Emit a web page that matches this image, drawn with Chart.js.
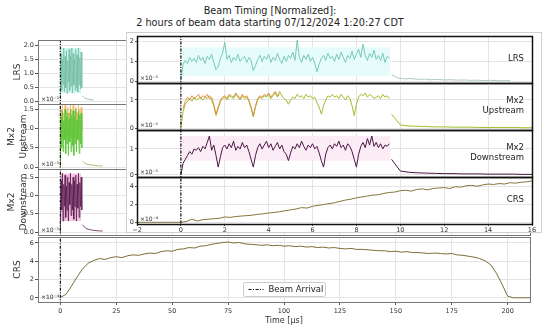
<!DOCTYPE html>
<html>
<head>
<meta charset="utf-8">
<script src="https://cdn.jsdelivr.net/npm/chart.js@4.4.1/dist/chart.umd.min.js"></script>
<style>
  body { margin: 0; width: 550px; height: 327px; background: #fff; position: relative; overflow: hidden; font-family: "DejaVu Sans", sans-serif; }
  canvas { position: absolute; }
  #title { position: absolute; left: 70px; width: 400px; top: 5px; text-align: center; font-size: 9.7px; line-height: 12px; color: #222; }
  #inset { position: absolute; left: 126px; top: 32px; width: 416px; height: 201px; box-sizing: border-box; background: #fff; border: 1px solid #cfcfcf; }
</style>
</head>
<body>
<div id="title">Beam Timing [Normalized]:<br>2 hours of beam data starting 07/12/2024 1:20:27 CDT</div>
<canvas id="left-lrs"></canvas>
<canvas id="left-up"></canvas>
<canvas id="left-down"></canvas>
<canvas id="full-crs"></canvas>
<div id="inset"></div>
<canvas id="in-lrs"></canvas>
<canvas id="in-up"></canvas>
<canvas id="in-down"></canvas>
<canvas id="in-crs"></canvas>
<script>
// ── Data ───────────────────────────────────────────────────
const beamArrival = 0;

// full range x ticks (µs) and zoomed x ticks
const fullTimeTicks = [0, 25, 50, 75, 100, 125, 150, 175, 200];
const zoomTimeTicks = [-2, 0, 2, 4, 6, 8, 10, 12, 14, 16];

// CRS over full window, sampled every 2.5 µs from 0 (×1e-4)
const crsFullStep = 2.5;
const crsFull = [
  0.05, 0.4, 1.3, 2.3, 3.2, 3.8, 4.1, 4.3, 4.2, 4.4,
  4.5, 4.4, 4.6, 4.7, 4.65, 4.8, 4.9, 4.85, 5.05, 5.15,
  5.1, 5.3, 5.35, 5.5, 5.45, 5.65, 5.7, 5.85, 5.95, 6.05,
  6.1, 6.0, 6.05, 5.9, 5.85, 5.8, 5.75, 5.8, 5.7, 5.75,
  5.65, 5.7, 5.6, 5.65, 5.55, 5.6, 5.5, 5.55, 5.45, 5.5,
  5.4, 5.35, 5.4, 5.3, 5.3, 5.25, 5.2, 5.15, 5.15, 5.05,
  5.1, 5.0, 5.05, 4.95, 4.95, 4.9, 4.85, 4.9, 4.85, 4.8,
  4.85, 4.7, 4.65, 4.55, 4.45, 4.3, 4.05, 3.6, 2.7, 1.5,
  0.2, 0.02, 0.02, 0.02, 0.02
];

// small overview panels: spill seen on the full time axis, every 0.3 µs from 0 (×1e-1)
const overviewStep = 0.3;
const lrsOverview = [
  0.1, 1.7, 0.4, 1.5, 0.6, 1.9, 0.35, 1.6, 0.5, 1.8,
  0.3, 1.45, 0.7, 1.85, 0.4, 1.6, 0.55, 1.9, 0.3, 1.7,
  0.6, 1.5, 0.4, 1.85, 0.5, 1.65, 0.35, 1.9, 0.6, 1.55,
  0.45, 1.75, 0.5
];
const upOverviewGreen = [
  0.0, 1.3, 0.5, 1.45, 0.4, 1.2, 0.7, 1.5, 0.35, 1.3,
  0.6, 1.4, 0.3, 1.25, 0.65, 1.5, 0.4, 1.35, 0.55, 1.45,
  0.3, 1.3, 0.6, 1.5, 0.4, 1.2, 0.7, 1.45, 0.35, 1.35,
  0.6, 1.4, 0.5
];
const upOverviewOrange = [
  0.0, 1.5, 0.8, 1.6, 0.7, 1.4, 0.9, 1.6, 0.6, 1.45,
  0.8, 1.55, 0.7, 1.4, 0.85, 1.6, 0.75, 1.5, 0.8, 1.6,
  0.6, 1.45, 0.9, 1.55, 0.7, 1.4, 0.85, 1.6, 0.65, 1.5,
  0.8, 1.55, 0.9
];
const downOverview = [
  0.0, 1.4, 0.6, 1.6, 0.3, 1.3, 0.7, 1.55, 0.4, 1.25,
  0.6, 1.5, 0.3, 1.35, 0.75, 1.6, 0.45, 1.3, 0.6, 1.5,
  0.35, 1.4, 0.7, 1.55, 0.3, 1.3, 0.65, 1.6, 0.4, 1.35,
  0.7, 1.5, 0.6
];
const overviewTailStart = 9.9;
const lrsOverviewTailStep = 1.0;
const lrsOverviewTail = [0.2, 0.12, 0.1, 0.08, 0.07, 0.06];
const mx2OverviewTailStep = 1.5;
const upOverviewTail = [0.15, 0.08, 0.06, 0.05, 0.04, 0.03, 0.03];
const downOverviewTail = [0.2, 0.1, 0.07, 0.05, 0.04, 0.03, 0.03];
const overviewBandTimes = [0.3, 9.3];
const lrsOverviewOuter = [0.3, 1.9];
const lrsOverviewInner = [0.6, 1.35];
const upOverviewInner = [0.75, 1.2];
const downOverviewOuter = [0.3, 1.6];
const downOverviewInner = [0.8, 1.2];

// zoomed panels: every 0.1 µs from 0 to 9.5 (×1e-1)
const zoomStep = 0.1;
const lrsZoom = [
  0.05, 0.85, 1.05, 0.9, 1.2, 1.0, 1.15, 0.95, 1.3, 1.05,
  1.2, 0.9, 1.25, 1.1, 1.35, 0.95, 0.6, 0.75, 1.15, 1.4,
  1.95, 1.1, 1.3, 0.95, 1.2, 1.05, 1.35, 1.0, 1.15, 1.25,
  0.95, 1.2, 1.05, 0.55, 0.8, 1.1, 1.3, 1.0, 1.25, 1.1,
  1.35, 0.95, 1.2, 1.05, 1.4, 1.1, 0.9, 1.25, 1.0, 1.3,
  1.15, 1.45, 1.05, 2.05, 1.2, 0.95, 1.3, 1.1, 1.35, 1.0,
  1.2, 0.9, 0.5, 0.85, 1.15, 1.3, 1.05, 1.4, 1.15, 1.25,
  1.0, 1.35, 1.1, 1.45, 1.2, 0.95, 1.3, 1.15, 1.5, 1.1,
  1.35, 1.6, 1.2, 1.85, 1.3, 1.05, 1.4, 1.2, 1.55, 1.1,
  1.3, 1.05, 1.4, 0.95, 1.25, 1.15
];
const upZoomGreen = [
  0.0, 0.6, 0.85, 0.95, 1.05, 0.95, 1.1, 1.0, 1.05, 1.1,
  1.0, 1.1, 1.05, 1.15, 1.0, 0.8, 0.45, 0.7, 0.95, 1.05,
  1.1, 1.0, 1.15, 1.1, 1.05, 1.2, 1.1, 1.0, 1.15, 1.05,
  1.1, 0.95, 0.7, 0.4, 0.75, 1.0, 1.1, 1.05, 1.15, 1.1,
  1.2, 1.05, 1.15, 1.25, 1.1, 1.3, 1.15, 1.05, 1.0, 0.85,
  1.0, 1.1, 1.05, 1.2, 1.1, 1.15, 1.05, 1.2, 1.1, 1.15,
  1.05, 1.1, 0.9, 0.75, 0.5, 0.8, 1.0, 1.15, 1.1, 1.2,
  1.1, 1.15, 1.05, 1.2, 1.1, 1.0, 1.15, 1.05, 0.8, 0.45,
  0.85, 1.1, 1.2, 1.15, 1.25, 1.1, 1.2, 1.15, 1.05, 1.1,
  1.15, 1.05, 1.2, 1.1, 1.15, 1.05
];
const upZoomOrangeStart = 0.1;
const upZoomOrange = [
  0.7, 0.95, 1.1, 1.0, 1.15, 1.05, 1.1, 1.2, 1.05, 1.15,
  1.1, 1.2, 1.05, 1.1, 0.85, 0.5, 0.75, 1.0, 1.1, 1.15,
  1.05, 1.2, 1.15, 1.1, 1.25, 1.15, 1.05, 1.2, 1.1, 1.15,
  1.0, 0.75, 0.45, 0.8, 1.05, 1.15, 1.1, 1.2, 1.15, 1.25,
  1.1, 1.2, 1.3, 1.15, 1.2
];
const downZoom = [
  0.0, 0.45, 0.6, 0.75, 0.9, 0.8, 1.0, 0.95, 1.05, 0.9,
  1.1, 1.0, 1.25, 1.5, 0.95, 1.15, 0.75, 0.3, 0.7, 1.05,
  1.15, 1.0, 1.2, 1.05, 1.3, 0.95, 1.1, 1.0, 1.25, 1.05,
  1.15, 0.9, 0.6, 0.3, 0.75, 1.05, 1.2, 1.0, 1.15, 1.3,
  1.05, 1.2, 0.95, 1.1, 1.25, 1.0, 1.15, 0.9, 0.8, 0.55,
  0.85, 1.1, 1.0, 1.2, 1.05, 1.3, 1.1, 0.95, 1.15, 1.05,
  1.2, 1.0, 1.1, 0.85, 0.55, 0.3, 0.8, 1.05, 1.15, 1.0,
  1.2, 1.1, 1.3, 1.05, 1.15, 0.95, 1.2, 1.1, 0.9, 0.6,
  0.3, 0.8, 1.1, 1.25, 1.05, 1.4, 1.15, 1.5, 1.1, 1.25,
  1.05, 1.2, 1.0, 1.15, 1.1, 1.2
];
const zoomTailStart = 9.6;
const lrsZoomTailStep = 0.3;
const lrsZoomTail = [0.35, 0.18, 0.14, 0.16, 0.12, 0.13, 0.1, 0.12, 0.09, 0.1, 0.08, 0.09, 0.07, 0.08, 0.06, 0.07, 0.06, 0.05, 0.06];
const mx2ZoomTailStep = 0.4;
const upZoomTail = [0.5, 0.12, 0.08, 0.07, 0.06, 0.05, 0.05, 0.04, 0.04, 0.04, 0.03, 0.03, 0.03, 0.03, 0.03, 0.02, 0.02];
const downZoomTail = [0.6, 0.15, 0.1, 0.08, 0.07, 0.06, 0.05, 0.05, 0.04, 0.04, 0.04, 0.03, 0.03, 0.03, 0.03, 0.02, 0.02];
const zoomBandTimes = [0, 9.55];
const lrsZoomBand = [0.3, 1.7];
const downZoomBand = [0.55, 1.5];

// CRS zoomed, every 0.25 µs from 0 (×1e-4), flat before arrival
const crsZoomPre = [{ x: -2, y: 0 }, { x: 0, y: 0 }];
const crsZoomStep = 0.25;
const crsZoom = [
  0.0, 0.1, 0.35, 0.15, 0.3, 0.35, 0.4, 0.45, 0.6, 0.55,
  0.65, 0.7, 0.75, 0.8, 0.9, 0.95, 1.05, 1.1, 1.2, 1.3,
  1.4, 1.5, 1.65, 1.6, 1.8, 1.9, 2.0, 2.1, 2.2, 2.35,
  2.5, 2.6, 2.75, 2.85, 2.95, 3.05, 3.1, 3.25, 3.35, 3.4,
  3.55, 3.6, 3.5, 3.7, 3.75, 3.65, 3.8, 3.85, 3.9, 3.8,
  4.0, 3.95, 4.1, 4.15, 4.05, 4.2, 4.3, 4.25, 4.35, 4.3,
  4.45, 4.4, 4.5, 4.55, 4.65
];

// ── Helpers ────────────────────────────────────────────────
Chart.defaults.font.family = "'DejaVu Sans', sans-serif";
Chart.defaults.color = "#333";

function pts(start, step, values) {
  return values.map((v, i) => ({ x: start + i * step, y: v }));
}

function line(data, color, width, order) {
  return { data, borderColor: color, borderWidth: width, fill: false, order: order || 2 };
}

function band(times, range, color) {
  return {
    data: times.map((t) => ({ x: t, y: range[1] })),
    borderWidth: 0, backgroundColor: color, fill: { value: range[0] }, order: 6,
  };
}

function beamLine() {
  return {
    label: "Beam Arrival",
    data: [{ x: beamArrival, y: -100 }, { x: beamArrival, y: 100 }],
    borderColor: "#111", borderWidth: 1.2, borderDash: [3, 1.5, 1, 1.5], order: 0,
  };
}

const minus = (v) => String(v).replace("-", "\u2212");
const crisp = (v) => Math.round(v) + 0.5;

// frame, "×10" note, right-hand label and legend
const decor = {
  id: "decor",
  afterDatasetsDraw(chart, args, o) {
    const { ctx, chartArea: a } = chart;
    ctx.save();
    ctx.strokeStyle = o.frame;
    ctx.lineWidth = o.frameWidth;
    const l = crisp(a.left), t = crisp(a.top);
    ctx.strokeRect(l, t, crisp(a.right) - l, crisp(a.bottom) - t);
    ctx.fillStyle = "#222";
    if (o.note) {
      ctx.font = "6px 'DejaVu Sans'";
      ctx.textAlign = "left";
      ctx.textBaseline = "bottom";
      ctx.fillText(o.note, a.left + 3, a.bottom - 2);
    }
    if (o.label) {
      ctx.font = "8.5px 'DejaVu Sans'";
      ctx.textAlign = "right";
      ctx.textBaseline = "middle";
      const mid = (a.top + a.bottom) / 2 - 0.5;
      o.label.forEach((s, i) => ctx.fillText(s, a.right - 8, mid + (i - (o.label.length - 1) / 2) * 10.5));
    }
    if (o.legend) {
      const ds = chart.data.datasets.find((d) => d.label);
      const w = 82, h = 14;
      const x0 = Math.round((a.left + a.right) / 2 - w / 2) + 0.5, y0 = Math.round(a.bottom - 6 - h) + 0.5;
      ctx.fillStyle = "rgba(255,255,255,0.9)";
      ctx.strokeStyle = "#cccccc";
      ctx.lineWidth = 1;
      ctx.beginPath();
      ctx.roundRect(x0, y0, w, h, 2);
      ctx.fill();
      ctx.stroke();
      ctx.strokeStyle = ds.borderColor;
      ctx.lineWidth = ds.borderWidth;
      ctx.setLineDash(ds.borderDash);
      ctx.beginPath();
      ctx.moveTo(x0 + 5, y0 + h / 2);
      ctx.lineTo(x0 + 20, y0 + h / 2);
      ctx.stroke();
      ctx.setLineDash([]);
      ctx.fillStyle = "#222";
      ctx.font = "8.5px 'DejaVu Sans'";
      ctx.textAlign = "left";
      ctx.textBaseline = "middle";
      ctx.fillText(ds.label, x0 + 25, y0 + h / 2 + 0.5);
    }
    ctx.restore();
  },
};

function panel(id, box, p) {
  const cv = document.getElementById(id);
  cv.width = box.w;
  cv.height = box.h;
  cv.style.left = box.x + "px";
  cv.style.top = box.y + "px";
  return new Chart(cv, {
    type: "line",
    data: { datasets: p.datasets },
    options: {
      responsive: false,
      animation: false,
      devicePixelRatio: 1,
      events: [],
      layout: { padding: box.pad },
      elements: { point: { radius: 0 }, line: { tension: 0 } },
      plugins: {
        legend: { display: false },
        tooltip: { enabled: false },
        decor: p.decor,
      },
      scales: {
        x: {
          type: "linear",
          min: p.x.min, max: p.x.max,
          afterBuildTicks: (s) => { s.ticks = p.x.ticks.map((v) => ({ value: v })); },
          afterFit: (s) => { s.height = p.x.height; },
          ticks: { display: p.x.labels, autoSkip: false, maxRotation: 0, padding: p.x.pad, font: { size: 6.5 }, callback: minus },
          grid: { color: "#e4e4e4", drawTicks: p.x.labels, tickLength: p.x.tick, tickColor: "#555" },
          border: { display: false },
          title: p.x.title
            ? { display: true, text: p.x.title, font: { size: 8 }, padding: { top: 0, bottom: 1 } }
            : { display: false },
        },
        y: {
          min: p.y.min, max: p.y.max,
          afterBuildTicks: (s) => { s.ticks = p.y.ticks.map((v) => ({ value: v })); },
          afterFit: (s) => { s.width = p.y.width; },
          ticks: { autoSkip: false, padding: 1, font: { size: 6.5 }, callback: p.y.fmt },
          grid: { color: "#e4e4e4", tickLength: p.y.tick, tickColor: "#555" },
          border: { display: false },
          title: p.y.title
            ? { display: true, text: p.y.title, font: { size: 9, lineHeight: 1.33 }, padding: { top: p.y.title.length > 1 ? 6 : 12, bottom: 0 } }
            : { display: false },
        },
      },
    },
    plugins: [decor],
  });
}

// ── Full-range panels (left column + bottom) ───────────────
const fullX = { min: -10, max: 210, ticks: fullTimeTicks, height: 0, labels: false, tick: 0, pad: 0 };
const fmt1 = (v) => v.toFixed(1);
const leftDecor = (note) => ({ frame: "#777", frameWidth: 1, note });
const leftPad = { top: 6, bottom: 6, left: 0, right: 15 };

panel("left-lrs", { x: 0, y: 34, w: 545, h: 76, pad: leftPad }, {
  datasets: [
    band(overviewBandTimes, lrsOverviewOuter, "#cdf6ef"),
    band(overviewBandTimes, lrsOverviewInner, "#62d6a8"),
    line(pts(0, overviewStep, lrsOverview), "#78bfa6", 0.8),
    line(pts(overviewTailStart, lrsOverviewTailStep, lrsOverviewTail), "#8fb5aa", 0.8),
    beamLine(),
  ],
  x: fullX,
  y: { min: -0.08, max: 2.18, ticks: [0, 0.5, 1, 1.5, 2], width: 38, tick: 3, fmt: fmt1, title: ["LRS"] },
  decor: leftDecor("\u00d710\u207b\u00b9"),
});

panel("left-up", { x: 0, y: 98, w: 545, h: 77, pad: leftPad }, {
  datasets: [
    band(overviewBandTimes, upOverviewInner, "#8edb66"),
    line(pts(0, overviewStep, upOverviewOrange), "#f2b060", 0.7, 3),
    line(pts(0, overviewStep, upOverviewGreen), "#5cc83a", 0.9, 1),
    line(pts(overviewTailStart, mx2OverviewTailStep, upOverviewTail), "#9ab54a", 0.8),
    beamLine(),
  ],
  x: fullX,
  y: { min: -0.05, max: 1.63, ticks: [0, 0.5, 1, 1.5], width: 38, tick: 3, fmt: fmt1, title: ["Mx2", "Upstream"] },
  decor: leftDecor("\u00d710\u207b\u00b9"),
});

panel("left-down", { x: 0, y: 163, w: 545, h: 78, pad: leftPad }, {
  datasets: [
    band(overviewBandTimes, downOverviewOuter, "#f5c4e2"),
    band(overviewBandTimes, downOverviewInner, "#8e2e78"),
    line(pts(0, overviewStep, downOverview), "#5c1f52", 0.8),
    line(pts(overviewTailStart, mx2OverviewTailStep, downOverviewTail), "#5c1f52", 0.8),
    beamLine(),
  ],
  x: fullX,
  y: { min: -0.08, max: 1.72, ticks: [0, 0.5, 1, 1.5], width: 38, tick: 3, fmt: fmt1, title: ["Mx2", "Downstream"] },
  decor: leftDecor("\u00d710\u207b\u00b9"),
});

panel("full-crs", { x: 0, y: 231, w: 545, h: 96, pad: { top: 6, bottom: 0, left: 0, right: 15 } }, {
  datasets: [
    line(pts(0, crsFullStep, crsFull), "#7d6c35", 1),
    beamLine(),
  ],
  x: { min: -10, max: 210, ticks: fullTimeTicks, height: 25, labels: true, tick: 3, pad: 2, title: "Time [\u00b5s]" },
  y: { min: -0.44, max: 6.65, ticks: [0, 2, 4, 6], width: 38, tick: 3, fmt: (v) => v, title: ["CRS"] },
  decor: { frame: "#777", frameWidth: 1, note: "\u00d710\u207b\u2074", legend: true },
});

// ── Zoomed inset (first 16 µs) ─────────────────────────────
const zoomX = { min: -2, max: 16, ticks: zoomTimeTicks, height: 0, labels: false, tick: 0, pad: 0 };
const intFmt = (v) => v;
const insetBox = (y, h, padBottom) => ({ x: 126, y, w: 416, h, pad: { top: 6, bottom: padBottom, left: 0, right: 10 } });

panel("in-lrs", insetBox(30, 59, 6), {
  datasets: [
    band(zoomBandTimes, lrsZoomBand, "#e6fcfa"),
    line(pts(0, zoomStep, lrsZoom), "#6cc3b2", 0.9),
    line(pts(zoomTailStart, lrsZoomTailStep, lrsZoomTail), "#9cbab5", 0.8),
    beamLine(),
  ],
  x: zoomX,
  y: { min: -0.06, max: 2.25, ticks: [0, 1, 2], width: 11, tick: 2, fmt: intFmt },
  decor: { frame: "#111", frameWidth: 1.5, note: "\u00d710\u207b\u00b9", label: ["LRS"] },
});

panel("in-up", insetBox(77, 59, 6), {
  datasets: [
    line(pts(upZoomOrangeStart, zoomStep, upZoomOrange), "#e8843c", 0.9, 1),
    line(pts(0, zoomStep, upZoomGreen), "#9cbf2e", 1),
    line(pts(zoomTailStart, mx2ZoomTailStep, upZoomTail), "#9cbf2e", 1),
    beamLine(),
  ],
  x: zoomX,
  y: { min: -0.06, max: 1.6, ticks: [0, 1], width: 11, tick: 2, fmt: intFmt },
  decor: { frame: "#111", frameWidth: 1.5, note: "\u00d710\u207b\u00b9", label: ["Mx2", "Upstream"] },
});

panel("in-down", insetBox(124, 59, 6), {
  datasets: [
    band(zoomBandTimes, downZoomBand, "#fcecf5"),
    line(pts(0, zoomStep, downZoom), "#4a1846", 1),
    line(pts(zoomTailStart, mx2ZoomTailStep, downZoomTail), "#4a1846", 1),
    beamLine(),
  ],
  x: zoomX,
  y: { min: -0.08, max: 1.73, ticks: [0, 1], width: 11, tick: 2, fmt: intFmt },
  decor: { frame: "#111", frameWidth: 1.5, note: "\u00d710\u207b\u00b9", label: ["Mx2", "Downstream"] },
});

panel("in-crs", insetBox(171, 62, 0), {
  datasets: [
    line(crsZoomPre.concat(pts(0, crsZoomStep, crsZoom)), "#857438", 1),
    beamLine(),
  ],
  x: { min: -2, max: 16, ticks: zoomTimeTicks, height: 9, labels: true, tick: 2, pad: 0 },
  y: { min: -0.19, max: 5.09, ticks: [0, 2, 4], width: 11, tick: 2, fmt: intFmt },
  decor: { frame: "#111", frameWidth: 1.5, note: "\u00d710\u207b\u2074", label: ["CRS"] },
});
</script>
</body>
</html>
